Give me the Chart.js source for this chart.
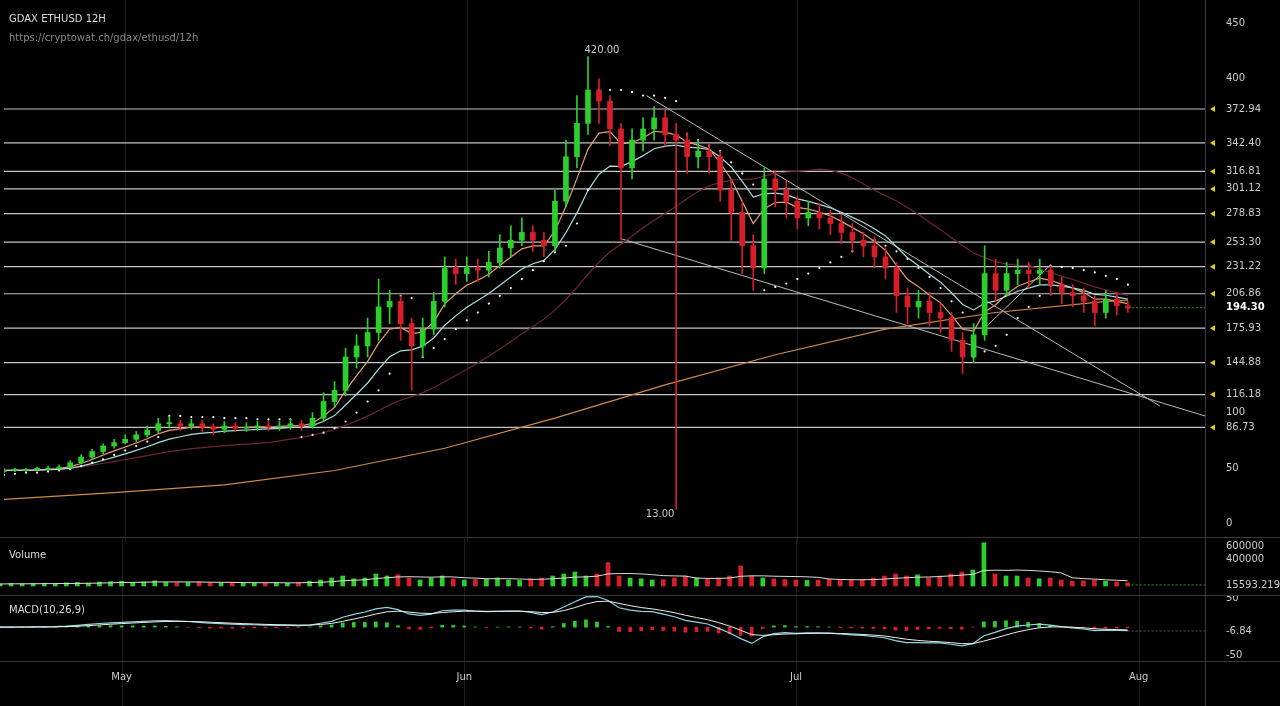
<!DOCTYPE html>
<html><head><meta charset="utf-8">
<script src="https://cdn.jsdelivr.net/npm/chart.js@4"></script>
<style>
body{margin:0;background:#000;width:1280px;height:706px;overflow:hidden;position:relative;font-family:"DejaVu Sans",sans-serif}
.box{position:absolute;left:0;width:1280px}
.lbl{position:absolute;color:#ddd;font-size:10px}
</style></head><body>
<div class="box" style="top:0;height:542px"><canvas id="main" width="1280" height="542"></canvas></div>
<div class="box" style="top:537px;height:59px"><canvas id="vol" width="1280" height="59"></canvas></div>
<div class="box" style="top:596px;height:110px"><canvas id="macd" width="1280" height="110"></canvas></div>
<div class="lbl" style="left:9px;top:13px">GDAX ETHUSD 12H</div>
<div class="lbl" style="left:9px;top:32px;color:#888">https://cryptowat.ch/gdax/ethusd/12h</div>
<div class="lbl" style="left:9px;top:549px">Volume</div>
<div class="lbl" style="left:9px;top:604px">MACD(10,26,9)</div>
<script>
// day index 0 = Apr 20
const months = [{d:11,t:"May"},{d:42,t:"Jun"},{d:72,t:"Jul"},{d:103,t:"Aug"}];
const closes = [48,48,49,49,50,51,55,60,65,70,73,76,80,84,90,90,88,90,87,85,88,86,87,88,87,88,90,88,95,110,120,150,160,172,195,200,180,160,175,200,230,225,230,228,235,248,255,262,255,250,290,330,360,390,380,355,320,345,355,365,350,345,330,335,330,300,280,250,230,310,300,290,275,280,275,270,262,255,250,240,230,205,195,200,190,185,165,150,170,225,210,225,228,225,228,215,208,205,200,190,202,196,194];
const highs = [50,50,50,51,52,53,57,62,67,72,76,80,83,88,95,97,93,94,93,90,92,91,91,92,92,92,94,93,100,118,128,158,170,185,220,210,205,185,185,208,240,238,240,238,245,260,268,275,268,262,300,345,385,420,400,385,360,355,365,375,372,360,352,345,342,335,310,290,260,320,318,308,295,290,288,282,278,270,262,258,248,235,212,210,208,198,190,172,180,250,238,235,238,235,238,232,222,215,212,205,210,208,200];
const lows = [46,47,47,48,48,49,50,54,58,63,68,72,74,78,82,86,84,85,83,80,82,83,83,84,84,84,85,84,86,92,105,115,140,150,165,180,165,120,150,170,195,215,218,218,222,230,240,250,245,240,245,285,320,350,360,340,255,310,335,345,340,13,315,320,315,290,255,225,210,225,285,275,265,268,265,260,252,245,240,230,220,190,180,185,178,172,155,135,145,165,200,205,215,212,215,205,198,195,190,178,185,188,190];
const volumes = [30,36,33,36,42,36,48,54,42,60,66,72,54,60,78,54,48,54,60,48,42,54,48,42,48,54,42,54,72,90,120,150,108,120,180,150,168,120,90,120,150,108,90,96,102,120,90,84,108,120,150,180,210,150,180,350,150,120,108,90,96,120,150,120,108,120,150,300,150,120,108,96,90,84,90,102,96,90,102,120,150,180,150,168,120,150,180,210,240,648,180,150,150,120,108,120,90,72,78,90,72,60,48].map(v=>v*1000);
const sar = [44,45,46,46,47,48,49,52,55,58,62,66,70,74,78,97,97,96,96,96,95,95,95,94,94,94,94,78,80,82,86,92,100,110,120,135,205,203,150,158,166,175,183,190,198,205,212,220,228,236,244,250,270,300,390,390,390,388,385,385,383,380,350,345,340,335,325,315,305,210,213,216,220,225,230,235,240,245,250,255,250,245,238,230,222,212,200,190,150,155,160,170,185,195,205,232,231,230,228,226,223,220,215];
const longMaDays = [0,10,20,30,40,50,60,70,80,90,100,102];
const longMaVals = [22,28,35,48,68,95,125,152,175,190,200,201];
const levels = [372.94,342.40,316.81,301.12,278.83,253.30,231.22,206.86,175.93,144.88,116.18,86.73];
const priceTicks = [0,50,100,400,450];
const lastPrice = 194.30;
const lastVolume = 15593.219;
const lastMacd = -6.84;
const trendLines = [[[58.3,385],[104.9,106]],[[56.1,256],[109,97]],[[89,176],[95,233]]];

const opens = closes.map((c,i)=> i ? closes[i-1] : 47);
const up = closes.map((c,i)=> c >= opens[i]);
const GREEN = '#2ccf2c', RED = '#d61f2a';
function ema(a,n){const k=2/(n+1);let p=a[0];return a.map((v,i)=>p=i?v*k+p*(1-k):v);}
function sma(a,n){return a.map((v,i)=>{const s=a.slice(Math.max(0,i-n+1),i+1);return s.reduce((x,y)=>x+y,0)/s.length;});}
const xy = (arr)=>arr.map((v,i)=>({x:i,y:v}));
const XMIN = 0, XMAX = 109;

// draws month grid, panel borders and the right-hand labels
function frame(labels){return {
  id:'frame',
  beforeDatasetsDraw(c){
    const g=c.ctx,x=c.scales.x;
    g.save();g.strokeStyle='#1c1c1c';g.lineWidth=1;
    months.forEach(m=>{const px=Math.round(x.getPixelForValue(m.d))+.5;g.beginPath();g.moveTo(px,0);g.lineTo(px,c.height);g.stroke();});
    g.restore();
  },
  afterDraw(c){
    const g=c.ctx,a=c.chartArea,y=c.scales.y;
    g.save();g.strokeStyle='#3a3a3a';g.lineWidth=1;
    g.beginPath();g.moveTo(a.right+.5,0);g.lineTo(a.right+.5,c.height);g.stroke();
    g.beginPath();g.moveTo(0,a.bottom-.5);g.lineTo(1280,a.bottom-.5);g.stroke();
    g.textBaseline='middle';
    labels.forEach(l=>{
      g.fillStyle=l.bold?'#fff':'#ccc';g.font=(l.bold?'bold ':'')+'10px DejaVu Sans';
      g.fillText(l.text,a.right+21,y.getPixelForValue(l.v));
    });
    g.restore();
  }
};}
function yAxis(o){return Object.assign({position:'right',grid:{display:false},border:{display:false},
  afterFit:s=>{s.width=75},ticks:{display:false}},o);}
function xAxis(){return {type:'linear',min:XMIN,max:XMAX,offset:false,display:false};}
const base = {responsive:false,animation:false,devicePixelRatio:1,plugins:{legend:{display:false},tooltip:{enabled:false}},layout:{padding:0}};

// main chart
const mainSets = [];
levels.forEach(v=>mainSets.push({type:'line',data:[{x:XMIN,y:v},{x:XMAX,y:v}],borderColor:'#c4c4c4',borderWidth:1.2,pointRadius:0,order:5}));
trendLines.forEach(t=>mainSets.push({type:'line',data:t.map(p=>({x:p[0],y:p[1]})),borderColor:'#bbb',borderWidth:1,pointRadius:0,order:4}));
mainSets.push({type:'line',data:[{x:102,y:lastPrice},{x:XMAX,y:lastPrice}],borderColor:'#2a9a2a',borderDash:[2,2],borderWidth:1,pointRadius:0,order:4});
mainSets.push({type:'line',data:longMaDays.map((d,i)=>({x:d,y:longMaVals[i]})),borderColor:'#d08a4a',borderWidth:1.2,pointRadius:0,order:3});
mainSets.push({type:'line',data:xy(sma(closes,25)),borderColor:'#6e2535',borderWidth:1.2,pointRadius:0,order:3});
mainSets.push({type:'line',data:xy(ema(closes,10)),borderColor:'#a8dede',borderWidth:1.2,pointRadius:0,order:2});
mainSets.push({type:'line',data:xy(ema(closes,5)),borderColor:'#e8a070',borderWidth:1.2,pointRadius:0,order:2});
mainSets.push({type:'scatter',data:xy(sar),backgroundColor:'#fff',pointRadius:1.1,borderWidth:0,order:1});
mainSets.push({type:'bar',data:closes.map((c,i)=>({x:i,y:[lows[i],highs[i]]})),backgroundColor:up.map(u=>u?GREEN:RED),barThickness:1,grouped:false,order:0});
mainSets.push({type:'bar',data:closes.map((c,i)=>({x:i,y:[opens[i],Math.abs(c-opens[i])<1?opens[i]+1:c]})),backgroundColor:up.map(u=>u?GREEN:RED),barThickness:5,grouped:false,order:0});

const mainLabels = priceTicks.map(v=>({v,text:String(v)}))
  .concat(levels.map(v=>({v,text:v.toFixed(2)})),[{v:lastPrice,text:lastPrice.toFixed(2),bold:true}]);
new Chart(document.getElementById('main'),{
  data:{datasets:mainSets},
  options:Object.assign({},base,{scales:{x:xAxis(),y:yAxis({min:-12.7,max:467.3})}}),
  plugins:[frame(mainLabels),{id:'marks',afterDraw(c){
    const g=c.ctx,x=c.scales.x,y=c.scales.y;
    g.save();g.fillStyle='#e8d000';
    levels.forEach(v=>{const py=y.getPixelForValue(v),px=c.chartArea.right+5;g.beginPath();g.moveTo(px,py);g.lineTo(px+5,py-3);g.lineTo(px+5,py+3);g.fill();});
    g.fillStyle='#ccc';g.font='10px DejaVu Sans';g.textAlign='center';
    const hi=highs.indexOf(Math.max(...highs)),lo=lows.indexOf(Math.min(...lows));
    g.fillText(highs[hi].toFixed(2),x.getPixelForValue(hi)+14,y.getPixelForValue(highs[hi])-4);
    g.fillText(lows[lo].toFixed(2),x.getPixelForValue(lo)-16,y.getPixelForValue(lows[lo])+8);
    g.restore();
  }}]
});

// volume
new Chart(document.getElementById('vol'),{
  data:{datasets:[
    {type:'line',data:xy(sma(volumes,8)),borderColor:'#ddd',borderWidth:1,pointRadius:0},
    {type:'line',data:[{x:102,y:lastVolume},{x:XMAX,y:lastVolume}],borderColor:'#2a9a2a',borderDash:[2,2],borderWidth:1,pointRadius:0},
    {type:'bar',data:xy(volumes),backgroundColor:up.map(u=>u?GREEN:RED),barThickness:4}
  ]},
  options:Object.assign({},base,{scales:{x:xAxis(),y:yAxis({min:-150000,max:735000})}}),
  plugins:[frame([{v:lastVolume,text:String(lastVolume)},{v:400000,text:'400000'},{v:600000,text:'600000'}])]
});

// MACD
const macdLine = ema(closes,5).map((v,i)=>v-ema(closes,13)[i]);
const signal = ema(macdLine,5);
const hist = macdLine.map((v,i)=>v-signal[i]);
new Chart(document.getElementById('macd'),{
  data:{datasets:[
    {type:'line',data:xy(signal),borderColor:'#eee',borderWidth:1,pointRadius:0},
    {type:'line',data:xy(macdLine),borderColor:'#8cd8e8',borderWidth:1.2,pointRadius:0},
    {type:'line',data:[{x:102,y:lastMacd},{x:XMAX,y:lastMacd}],borderColor:'#555',borderDash:[2,2],borderWidth:1,pointRadius:0},
    {type:'bar',data:xy(hist),backgroundColor:hist.map(v=>v>=0?GREEN:RED),barThickness:3}
  ]},
  options:Object.assign({},base,{layout:{padding:{bottom:44}},scales:{x:xAxis(),y:yAxis({min:-61.7,max:55})}}),
  plugins:[frame([{v:-50,text:'-50'},{v:lastMacd,text:String(lastMacd)},{v:50,text:'50'}]),{id:'months',afterDraw(c){
    const g=c.ctx,x=c.scales.x;g.save();g.fillStyle='#ccc';g.font='10px DejaVu Sans';g.textAlign='center';
    months.forEach(m=>g.fillText(m.t,x.getPixelForValue(m.d),84));g.restore();
  }}]
});
</script>
</body></html>
